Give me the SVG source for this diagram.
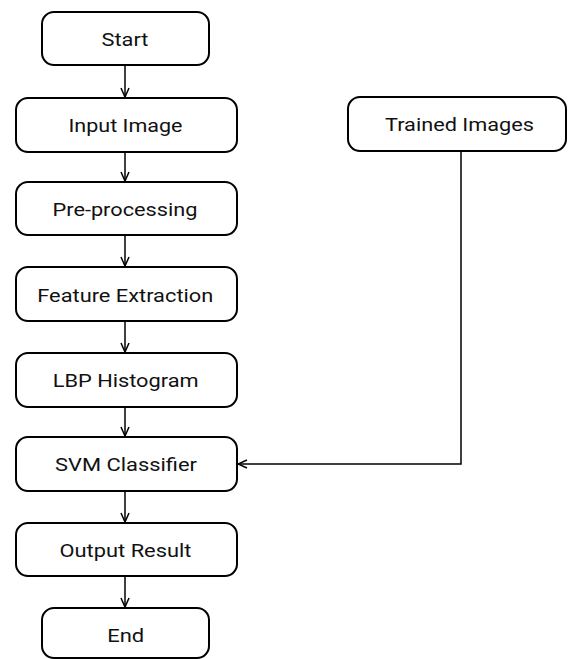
<svg xmlns="http://www.w3.org/2000/svg" width="568" height="659" viewBox="0 0 568 659">
<style>
.box{fill:#fff;stroke:#000;stroke-width:2}
.lbl{font-family:Roboto,"Liberation Sans",sans-serif;font-size:19px;fill:#111;text-anchor:middle}
.con{fill:none;stroke:#000;stroke-width:1.5}
</style>
<defs>
<marker id="arr" viewBox="0 0 10 10" refX="10" refY="5" markerWidth="10" markerHeight="10" markerUnits="userSpaceOnUse" orient="auto">
<path d="M1,1 L10,5 L1,9" fill="none" stroke="#000" stroke-width="1.5"/>
</marker>
</defs>
<rect width="568" height="659" fill="#fff"/>
<g id="connectors">
<line class="con" x1="125" y1="65" x2="125" y2="97" marker-end="url(#arr)"/>
<line class="con" x1="125" y1="152" x2="125" y2="181" marker-end="url(#arr)"/>
<line class="con" x1="125" y1="235" x2="125" y2="266" marker-end="url(#arr)"/>
<line class="con" x1="125" y1="321" x2="125" y2="352" marker-end="url(#arr)"/>
<line class="con" x1="125" y1="407" x2="125" y2="436" marker-end="url(#arr)"/>
<line class="con" x1="125" y1="491" x2="125" y2="522" marker-end="url(#arr)"/>
<line class="con" x1="125" y1="576" x2="125" y2="607" marker-end="url(#arr)"/>
<polyline class="con" points="461,151 461,464 238,464" marker-end="url(#arr)"/>
</g>
<g id="start"><rect class="box" x="42" y="12" width="167" height="53" rx="12"/><text class="lbl" x="125" y="45.5" textLength="47" lengthAdjust="spacingAndGlyphs">Start</text></g>
<g id="input"><rect class="box" x="16" y="98" width="221" height="54" rx="12"/><text class="lbl" x="125.5" y="132" textLength="114" lengthAdjust="spacingAndGlyphs">Input Image</text></g>
<g id="preprocessing"><rect class="box" x="16" y="182" width="221" height="53" rx="12"/><text class="lbl" x="125" y="215.5" textLength="145" lengthAdjust="spacingAndGlyphs">Pre-processing</text></g>
<g id="feature"><rect class="box" x="16" y="267" width="221" height="54" rx="12"/><text class="lbl" x="125.3" y="301.5" textLength="176" lengthAdjust="spacingAndGlyphs">Feature Extraction</text></g>
<g id="lbp"><rect class="box" x="16" y="353" width="221" height="54" rx="12"/><text class="lbl" x="125.7" y="387" textLength="146" lengthAdjust="spacingAndGlyphs">LBP Histogram</text></g>
<g id="svm"><rect class="box" x="16" y="437" width="221" height="54" rx="12"/><text class="lbl" x="126" y="471" textLength="142" lengthAdjust="spacingAndGlyphs">SVM Classifier</text></g>
<g id="output"><rect class="box" x="16" y="523" width="221" height="53" rx="12"/><text class="lbl" x="125.5" y="556.5" textLength="132" lengthAdjust="spacingAndGlyphs">Output Result</text></g>
<g id="end"><rect class="box" x="42" y="608" width="167" height="50" rx="12"/><text class="lbl" x="125.7" y="642" textLength="37" lengthAdjust="spacingAndGlyphs">End</text></g>
<g id="trained"><rect class="box" x="348" y="97" width="218" height="54" rx="12"/><text class="lbl" x="459.5" y="130.7" textLength="149" lengthAdjust="spacingAndGlyphs">Trained Images</text></g>
</svg>
